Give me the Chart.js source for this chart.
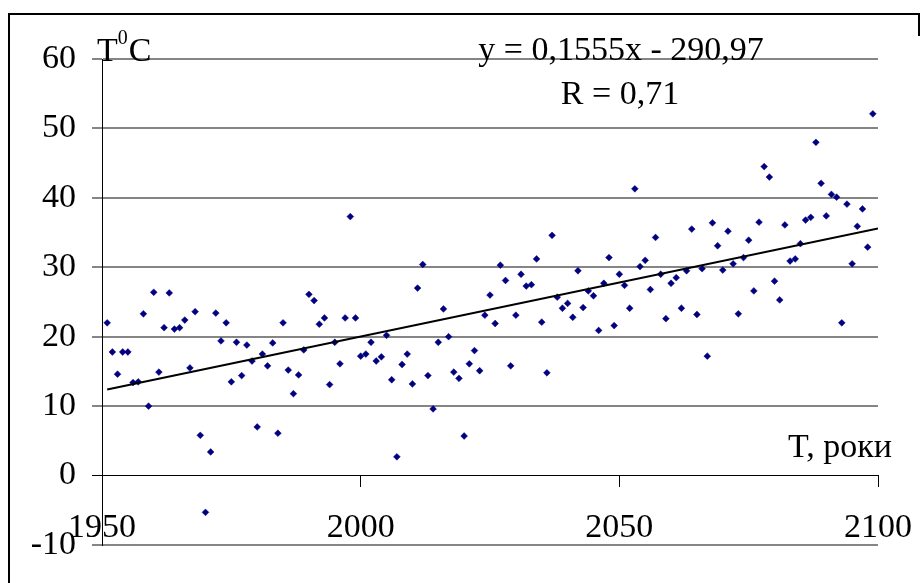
<!DOCTYPE html>
<html>
<head>
<meta charset="utf-8">
<script src="https://cdn.jsdelivr.net/npm/chart.js@4/dist/chart.umd.min.js"></script>
<style>
  html, body { margin: 0; padding: 0; background: #fff; }
  canvas { display: block; }
</style>
</head>
<body>
<canvas id="tempChart" width="923" height="583"></canvas>
<script>
// annual values, one per year starting at firstYear
const firstYear = 1951;
const temps = [
  22.0, 17.8, 14.6, 17.8, 17.8, 13.4, 13.5, 23.3, 10.0, 26.4,
  14.9, 21.3, 26.3, 21.1, 21.3, 22.4, 15.5, 23.6, 5.8, -5.3,
  3.4, 23.4, 19.4, 22.0, 13.5, 19.2, 14.4, 18.8, 16.5, 7.0,
  17.5, 15.8, 19.1, 6.1, 22.0, 15.2, 11.8, 14.5, 18.1, 26.1,
  25.2, 21.8, 22.7, 13.1, 19.2, 16.1, 22.7, 37.3, 22.7, 17.2,
  17.5, 19.2, 16.5, 17.1, 20.2, 13.8, 2.7, 16.0, 17.5, 13.2,
  27.0, 30.4, 14.4, 9.6, 19.2, 24.0, 20.0, 14.9, 14.0, 5.7,
  16.1, 18.0, 15.1, 23.1, 26.0, 21.9, 30.3, 28.1, 15.8, 23.1,
  29.0, 27.3, 27.5, 31.2, 22.1, 14.8, 34.6, 25.7, 24.1, 24.8,
  22.8, 29.5, 24.2, 26.6, 25.9, 20.9, 27.7, 31.4, 21.6, 29.0,
  27.4, 24.1, 41.3, 30.1, 31.0, 26.8, 34.3, 29.0, 22.6, 27.7,
  28.5, 24.1, 29.5, 35.5, 23.2, 29.8, 17.2, 36.4, 33.1, 29.6,
  35.2, 30.5, 23.3, 31.4, 33.9, 26.6, 36.5, 44.5, 43.0, 28.0,
  25.3, 36.1, 30.9, 31.2, 33.4, 36.8, 37.2, 48.0, 42.1, 37.4,
  40.5, 40.1, 22.0, 39.1, 30.5, 35.9, 38.4, 32.9, 52.1
];
const years = temps.map((_, i) => firstYear + i);

const xTicks = [1950, 2000, 2050, 2100];
const yTicks = [-10, 0, 10, 20, 30, 40, 50, 60];

// linear trend
const slope = 0.1555;
const intercept = -290.97;
const trendYears = [1951, 2100];
const eqText = "y = 0,1555x - 290,97";
const rText = "R = 0,71";

const FONT = '"Liberation Serif", "Times New Roman", serif';

const points = years.map((y, i) => ({ x: y, y: temps[i] }));
const trend = trendYears.map(y => ({ x: y, y: slope * y + intercept }));

const textPlugin = {
  id: 'textPlugin',
  afterDraw(chart) {
    const c = chart.ctx;
    c.save();
    // outer frame
    c.strokeStyle = '#000';
    c.lineWidth = 2;
    c.beginPath();
    c.moveTo(9, 583);
    c.lineTo(9, 14);
    c.lineTo(919, 14);
    c.lineTo(919, 36);
    c.stroke();

    c.fillStyle = '#000';
    c.textBaseline = 'alphabetic';
    c.textAlign = 'left';
    c.font = '34px ' + FONT;
    c.fillText('T', 97, 61);
    const tw = c.measureText('T').width;
    c.font = '20px ' + FONT;
    c.fillText('0', 97 + tw, 43.5);
    const zw = c.measureText('0').width;
    c.font = '34px ' + FONT;
    c.fillText('C', 97 + tw + zw + 1, 61);

    c.fillText('T, роки', 788, 457);

    c.textAlign = 'center';
    c.fillText(eqText, 621, 60);
    c.fillText(rText, 620, 104);
    c.restore();
  }
};

new Chart(document.getElementById('tempChart'), {
  type: 'scatter',
  data: {
    datasets: [
      {
        label: 'trend',
        data: trend,
        showLine: true,
        borderColor: '#000',
        borderWidth: 2,
        pointRadius: 0,
        order: 0
      },
      {
        label: 'T',
        data: points,
        pointStyle: 'rectRot',
        pointRadius: 3.4,
        borderWidth: 0.5,
        backgroundColor: '#000080',
        borderColor: '#000080',
        order: 1
      }
    ]
  },
  options: {
    responsive: false,
    animation: false,
    layout: { padding: { left: 0, top: 59, right: 45, bottom: 38 } },
    plugins: { legend: { display: false }, tooltip: { enabled: false } },
    scales: {
      x: {
        type: 'linear',
        position: { y: 0 },
        min: 1950,
        max: 2100,
        afterBuildTicks: s => { s.ticks = xTicks.map(v => ({ value: v })); },
        afterFit: s => { s.paddingLeft = 0; s.paddingRight = 0; },
        grid: { drawOnChartArea: false, color: '#000', tickLength: 11, lineWidth: 1 },
        border: { display: true, color: '#000', width: 1 },
        ticks: {
          color: '#000',
          font: { family: FONT, size: 34 },
          padding: 21,
          maxRotation: 0,
          autoSkip: false,
          callback: v => String(v)
        }
      },
      y: {
        type: 'linear',
        position: 'left',
        min: -10,
        max: 60,
        afterBuildTicks: s => { s.ticks = yTicks.map(v => ({ value: v })); },
        afterFit: s => { s.width = 102; s.paddingTop = 0; s.paddingBottom = 0; },
        grid: {
          color: c => (c.tick && c.tick.value === 0 ? '#000' : '#858585'),
          lineWidth: c => (c.tick && c.tick.value === 0 ? 1 : 2),
          tickLength: 10
        },
        border: { display: true, color: '#000', width: 1 },
        ticks: {
          color: '#000',
          font: { family: FONT, size: 34 },
          padding: 16,
          callback: v => String(v)
        }
      }
    }
  },
  plugins: [textPlugin]
});
</script>
</body>
</html>
